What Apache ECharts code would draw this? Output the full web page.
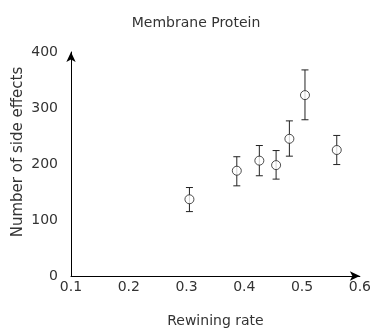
<!DOCTYPE html>
<html>
<head>
<meta charset="utf-8">
<script src="https://cdn.jsdelivr.net/npm/echarts@6/dist/echarts.min.js"></script>
<style>
  html, body { margin: 0; padding: 0; background: #fff; }
  #chart { width: 374px; height: 334px; }
</style>
</head>
<body>
<div id="chart"></div>
<script>
// Rewining rate vs. number of side effects (mean with error range)
const rewiningRate = [0.305, 0.387, 0.426, 0.455, 0.478, 0.505, 0.560];
const sideEffects  = [137, 188, 206, 198, 245, 323, 225];
const errLow       = [115, 161, 179, 173, 214, 279, 199];
const errHigh      = [158, 213, 233, 224, 277, 368, 251];
const xTicks = { min: 0.1, max: 0.6, interval: 0.1 };
const yTicks = { min: 0, max: 400, interval: 100 };

const points = rewiningRate.map((x, i) => [x, sideEffects[i]]);
const bars = rewiningRate.map((x, i) => [x, errLow[i], errHigh[i]]);

const font = 'DejaVu Sans';
const textColor = '#333';

const chart = echarts.init(document.getElementById('chart'), null, { renderer: 'canvas' });
chart.setOption({
  animation: false,
  backgroundColor: '#fff',
  title: {
    text: 'Membrane Protein',
    left: 191, top: 11, textAlign: 'center',
    textStyle: { fontFamily: font, fontSize: 14, fontWeight: 'normal', color: textColor }
  },
  graphic: [{
    type: 'text',
    x: 18, y: 152,
    rotation: Math.PI / 2,
    style: {
      text: 'Number of side effects',
      font: '15px "DejaVu Sans"',
      fill: textColor,
      align: 'center',
      verticalAlign: 'middle'
    }
  }],
  grid: { left: 71, right: 14, top: 52, bottom: 58 },
  xAxis: {
    type: 'value',
    min: xTicks.min, max: xTicks.max, interval: xTicks.interval,
    name: 'Rewining rate', nameLocation: 'middle', nameGap: 38,
    nameTextStyle: { fontFamily: font, fontSize: 14, color: textColor },
    axisLine: { lineStyle: { color: '#000', width: 1 }, symbol: ['none', 'arrow'], symbolSize: [7, 10] },
    axisTick: { show: false },
    splitLine: { show: false },
    axisLabel: { fontFamily: font, fontSize: 14, color: textColor, margin: 4,
      formatter: v => v.toFixed(1) }
  },
  yAxis: {
    type: 'value',
    min: yTicks.min, max: yTicks.max, interval: yTicks.interval,
    axisLine: { show: true, lineStyle: { color: '#000', width: 1 }, symbol: ['none', 'arrow'], symbolSize: [7, 10] },
    axisTick: { show: false },
    splitLine: { show: false },
    axisLabel: { fontFamily: font, fontSize: 14, color: textColor, margin: 13 }
  },
  series: [
    {
      type: 'custom',
      data: bars,
      z: 2,
      renderItem: function (params, api) {
        const x = api.value(0);
        const lo = api.coord([x, api.value(1)]);
        const hi = api.coord([x, api.value(2)]);
        const hw = 3.5;
        const style = { stroke: '#222', lineWidth: 1 };
        return {
          type: 'group',
          children: [
            { type: 'line', shape: { x1: lo[0], y1: lo[1], x2: hi[0], y2: hi[1] }, style },
            { type: 'line', shape: { x1: lo[0] - hw, y1: lo[1], x2: lo[0] + hw, y2: lo[1] }, style },
            { type: 'line', shape: { x1: hi[0] - hw, y1: hi[1], x2: hi[0] + hw, y2: hi[1] }, style }
          ]
        };
      }
    },
    {
      type: 'scatter',
      data: points,
      z: 3,
      symbol: 'circle',
      symbolSize: 9,
      itemStyle: { color: '#fff', borderColor: '#222', borderWidth: 1 }
    }
  ]
});
</script>
</body>
</html>
